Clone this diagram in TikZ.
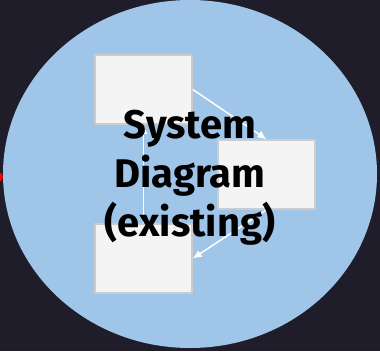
\documentclass[tikz,border=0pt]{standalone}
\usepackage{fontspec}
\setmainfont{Fira Sans}
\usepackage{tikz}
\usetikzlibrary{arrows.meta}
\definecolor{bgdark}{HTML}{1F1D29}
\definecolor{bubble}{HTML}{9FC5E8}
\definecolor{boxfill}{HTML}{F4F4F4}
\definecolor{boxline}{HTML}{CCCCCC}

\begin{document}
\begin{tikzpicture}[x=1pt,y=-1pt,>={Latex[length=9pt,width=8pt]},line join=round,
  box/.style={draw=boxline,fill=boxfill,line width=1.5pt,
    minimum width=97pt,minimum height=69pt,inner sep=0pt}]
  % dark page and the light blue bubble
  \fill[bgdark] (0,0) rectangle (380,351);
  \useasboundingbox (0,0) rectangle (380,351);
  \fill[bubble] (190,174) ellipse [x radius=187, y radius=174];
  \fill[red] (-2,177) circle (5);
  % the three boxes of the existing system
  \node[box] (b1) at (143.5,89.5) {};
  \node[box] (b2) at (266.5,174.5) {};
  \node[box] (b3) at (143.5,258.5) {};
  % flow round the cycle
  \draw[->,white,line width=1.5pt] (b1.east)--(b2.north);
  \draw[->,white,line width=1.5pt] (b2.south)--(b3.east);
  \draw[->,white,line width=1.5pt] (b3.north)--(b1.south);
  % title on top
  \node[align=center,font=\fontsize{40}{49}\selectfont\bfseries] (title) at (190,178)
    {System\\Diagram\\(existing)};
\end{tikzpicture}
\end{document}
